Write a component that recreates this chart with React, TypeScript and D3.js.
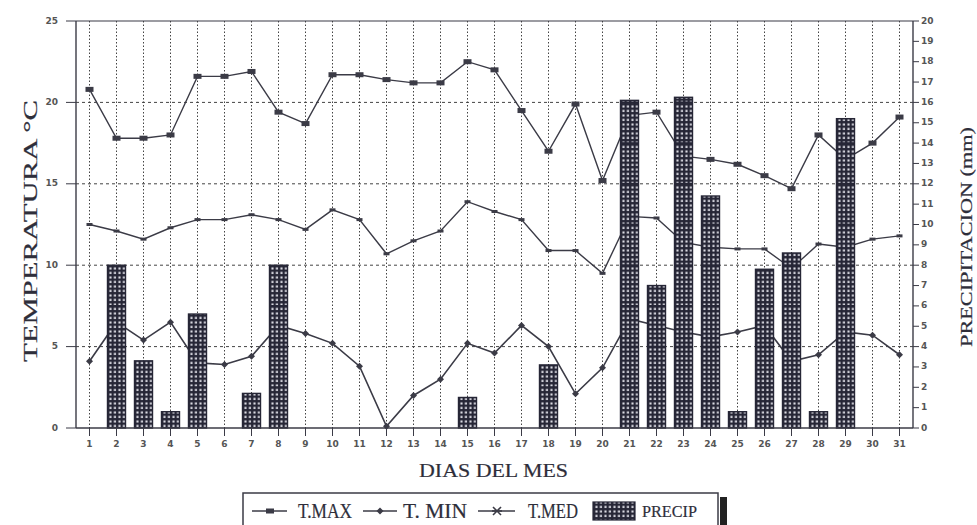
import React from 'react';
import * as d3 from 'd3';

const days = ['1','2','3','4','5','6','7','8','9','10','11','12','13','14','15','16','17','18','19','20','21','22','23','24','25','26','27','28','29','30','31'];
const tMax = [20.8,17.8,17.8,18.0,21.6,21.6,21.9,19.4,18.7,21.7,21.7,21.4,21.2,21.2,22.5,22.0,19.5,17.0,19.9,15.2,19.2,19.4,16.7,16.5,16.2,15.5,14.7,18.0,16.5,17.5,19.1];
const tMed = [12.5,12.1,11.6,12.3,12.8,12.8,13.1,12.8,12.2,13.4,12.8,10.7,11.5,12.1,13.9,13.3,12.8,10.9,10.9,9.5,13.0,12.9,11.4,11.1,11.0,11.0,9.8,11.3,11.1,11.6,11.8];
const tMin = [4.1,6.5,5.4,6.5,4.0,3.9,4.4,6.3,5.8,5.2,3.8,0.1,2.0,3.0,5.2,4.6,6.3,5.0,2.1,3.7,6.7,6.3,5.9,5.6,5.9,6.3,4.1,4.5,5.9,5.7,4.5];
const precip = [0,8,3.3,0.8,5.6,0,1.7,8,0,0,0,0,0,0,1.5,0,0,3.1,0,0,16.1,7,16.25,11.4,0.8,7.8,8.6,0.8,15.2,0,0];
const tempTicks = [0,5,10,15,20,25];
const precipTicks = [0,1,2,3,4,5,6,7,8,9,10,11,12,13,14,15,16,17,18,19,20];
const gridTemps = [5,10,15,20];
const legendLabels = ['T.MAX','T. MIN','T.MED','PRECIP'];

const INK = '#3b3b46';
const BAR = '#262636';

export default function App() {
  const left = 76, right = 913, top = 21, bottom = 428;
  const x = d3.scaleBand<string>().domain(days).range([left, right]).padding(0);
  const cx = (d: string) => (x(d) as number) + x.bandwidth() / 2;
  const yT = d3.scaleLinear().domain([0, 25]).range([bottom, top]);
  const yP = d3.scaleLinear().domain([0, 20]).range([bottom, top]);
  const line = d3.line<number>().x((_, i) => cx(days[i])).y(v => yT(v));
  const barW = 18;

  const sq = (px: number, py: number, k: string) => (
    <rect key={k} x={px - 4} y={py - 2.5} width={8} height={5} fill={INK} />
  );
  const dia = (px: number, py: number, k: string) => (
    <path key={k} d={`M${px},${py - 3.5}L${px + 3.5},${py}L${px},${py + 3.5}L${px - 3.5},${py}Z`} fill={INK} />
  );
  const star = (px: number, py: number, k: string) => (
    <g key={k} stroke={INK} strokeWidth={1.6}>
      <line x1={px - 5} y1={py} x2={px + 5} y2={py} />
      <line x1={px - 4} y1={py - 4} x2={px + 4} y2={py + 4} />
      <line x1={px - 4} y1={py + 4} x2={px + 4} y2={py - 4} />
    </g>
  );

  const tickFont = { fontFamily: 'DejaVu Sans', fontWeight: 'bold' as const, fontSize: 9, fill: '#555' };
  const serif = { fontFamily: 'Liberation Serif', fill: '#2e2e3a', stroke: '#2e2e3a', strokeWidth: 0.2 };

  return (
    <svg width={977} height={525} style={{ position: 'absolute', left: 0, top: 0, background: '#fff' }}>
      <defs>
        <pattern id="pp" patternUnits="userSpaceOnUse" width={4.5} height={4.5} x={0} y={bottom}>
          <rect width={4.5} height={4.5} fill={BAR} />
          <rect x={1.4} y={1.4} width={2.1} height={2.1} fill="#e4e4ec" />
        </pattern>
      </defs>
      <rect width={977} height={525} fill="#fff" />

      {days.map(d => (
        <line key={'vg' + d} x1={cx(d)} x2={cx(d)} y1={top} y2={bottom} stroke="#444" strokeWidth={1} strokeDasharray="1.5,2" />
      ))}
      {gridTemps.map(t => (
        <line key={'hg' + t} x1={left} x2={right} y1={yT(t)} y2={yT(t)} stroke="#444" strokeWidth={1} strokeDasharray="3,3" />
      ))}

      <path d={line(tMax) as string} fill="none" stroke={INK} strokeWidth={1.4} />
      <path d={line(tMed) as string} fill="none" stroke={INK} strokeWidth={1.4} />
      <path d={line(tMin) as string} fill="none" stroke={INK} strokeWidth={1.6} />
      {tMax.map((v, i) => sq(cx(days[i]), yT(v), 'mx' + i))}
      {tMed.map((v, i) => (
        <rect key={'md' + i} x={cx(days[i]) - 3} y={yT(v) - 1.5} width={6} height={3} fill={INK} />
      ))}
      {tMin.map((v, i) => dia(cx(days[i]), yT(v), 'mn' + i))}

      {precip.map((v, i) => v > 0 ? (
        <g key={'b' + i}>
          <rect x={cx(days[i]) - barW / 2} y={yP(v)} width={barW} height={bottom - yP(v)} fill="url(#pp)" stroke={BAR} strokeWidth={1.4} />
          {precipTicks.filter(t => t > 0 && t % 2 === 0 && t < v).map(t => (
            <line key={t} x1={cx(days[i]) - barW / 2} x2={cx(days[i]) + barW / 2} y1={yP(t)} y2={yP(t)} stroke={BAR} strokeWidth={1.8} />
          ))}
        </g>
      ) : null)}

      <line x1={left} x2={right} y1={top} y2={top} stroke={INK} strokeWidth={1.2} />
      <line x1={left} x2={right} y1={bottom} y2={bottom} stroke={INK} strokeWidth={1.4} />
      <line x1={left} x2={left} y1={top} y2={bottom} stroke={INK} strokeWidth={1.4} />
      <line x1={right} x2={right} y1={top} y2={bottom} stroke={INK} strokeWidth={1.4} />

      {tempTicks.map(t => (
        <g key={'lt' + t}>
          <line x1={66} x2={left} y1={yT(t)} y2={yT(t)} stroke={INK} strokeWidth={1} />
          <text x={58} y={yT(t)} textAnchor="end" dominantBaseline="middle" {...tickFont}>{t}</text>
        </g>
      ))}
      {precipTicks.map(t => (
        <g key={'rt' + t}>
          <line x1={right} x2={right + 6} y1={yP(t)} y2={yP(t)} stroke={INK} strokeWidth={1} />
          <text x={right + 8} y={yP(t)} dominantBaseline="middle" {...tickFont}>{t}</text>
        </g>
      ))}
      {days.map(d => (
        <g key={'xt' + d}>
          <line x1={cx(d)} x2={cx(d)} y1={bottom} y2={bottom + 8} stroke={INK} strokeWidth={1} />
          <text x={cx(d)} y={447} textAnchor="middle" {...tickFont}>{d}</text>
        </g>
      ))}

      <text transform="translate(37,231) rotate(-90)" textAnchor="middle" fontSize={19} textLength={262} lengthAdjust="spacingAndGlyphs" {...serif}>TEMPERATURA °C</text>
      <text transform="translate(972,237) rotate(-90)" textAnchor="middle" fontSize={16} textLength={220} lengthAdjust="spacingAndGlyphs" {...serif}>PRECIPITACION (mm)</text>
      <text x={419} y={477} fontSize={19} textLength={149} lengthAdjust="spacingAndGlyphs" {...serif}>DIAS DEL MES</text>

      <rect x={720} y={497} width={7} height={30} fill="#222" />
      <rect x={243} y={493} width={475} height={40} fill="#fff" stroke={INK} strokeWidth={1.5} />
      <line x1={252} x2={287} y1={511} y2={511} stroke={INK} strokeWidth={1.3} />
      {sq(270, 511, 'l1')}
      <text x={298} y={518} fontSize={20} textLength={54} lengthAdjust="spacingAndGlyphs" {...serif}>{legendLabels[0]}</text>
      <line x1={363} x2={397} y1={511} y2={511} stroke={INK} strokeWidth={1.5} />
      {dia(380, 511, 'l2')}
      <text x={403} y={518} fontSize={20} textLength={64} lengthAdjust="spacingAndGlyphs" {...serif}>{legendLabels[1]}</text>
      <line x1={478} x2={515} y1={511} y2={511} stroke={INK} strokeWidth={1.5} />
      {star(497, 511, 'l3')}
      <text x={528} y={518} fontSize={20} textLength={50} lengthAdjust="spacingAndGlyphs" {...serif}>{legendLabels[2]}</text>
      <rect x={593} y={502} width={42} height={18} fill="url(#pp)" stroke={BAR} strokeWidth={1.2} />
      <text x={642} y={517} fontSize={17} textLength={55} lengthAdjust="spacingAndGlyphs" {...serif}>{legendLabels[3]}</text>
    </svg>
  );
}
